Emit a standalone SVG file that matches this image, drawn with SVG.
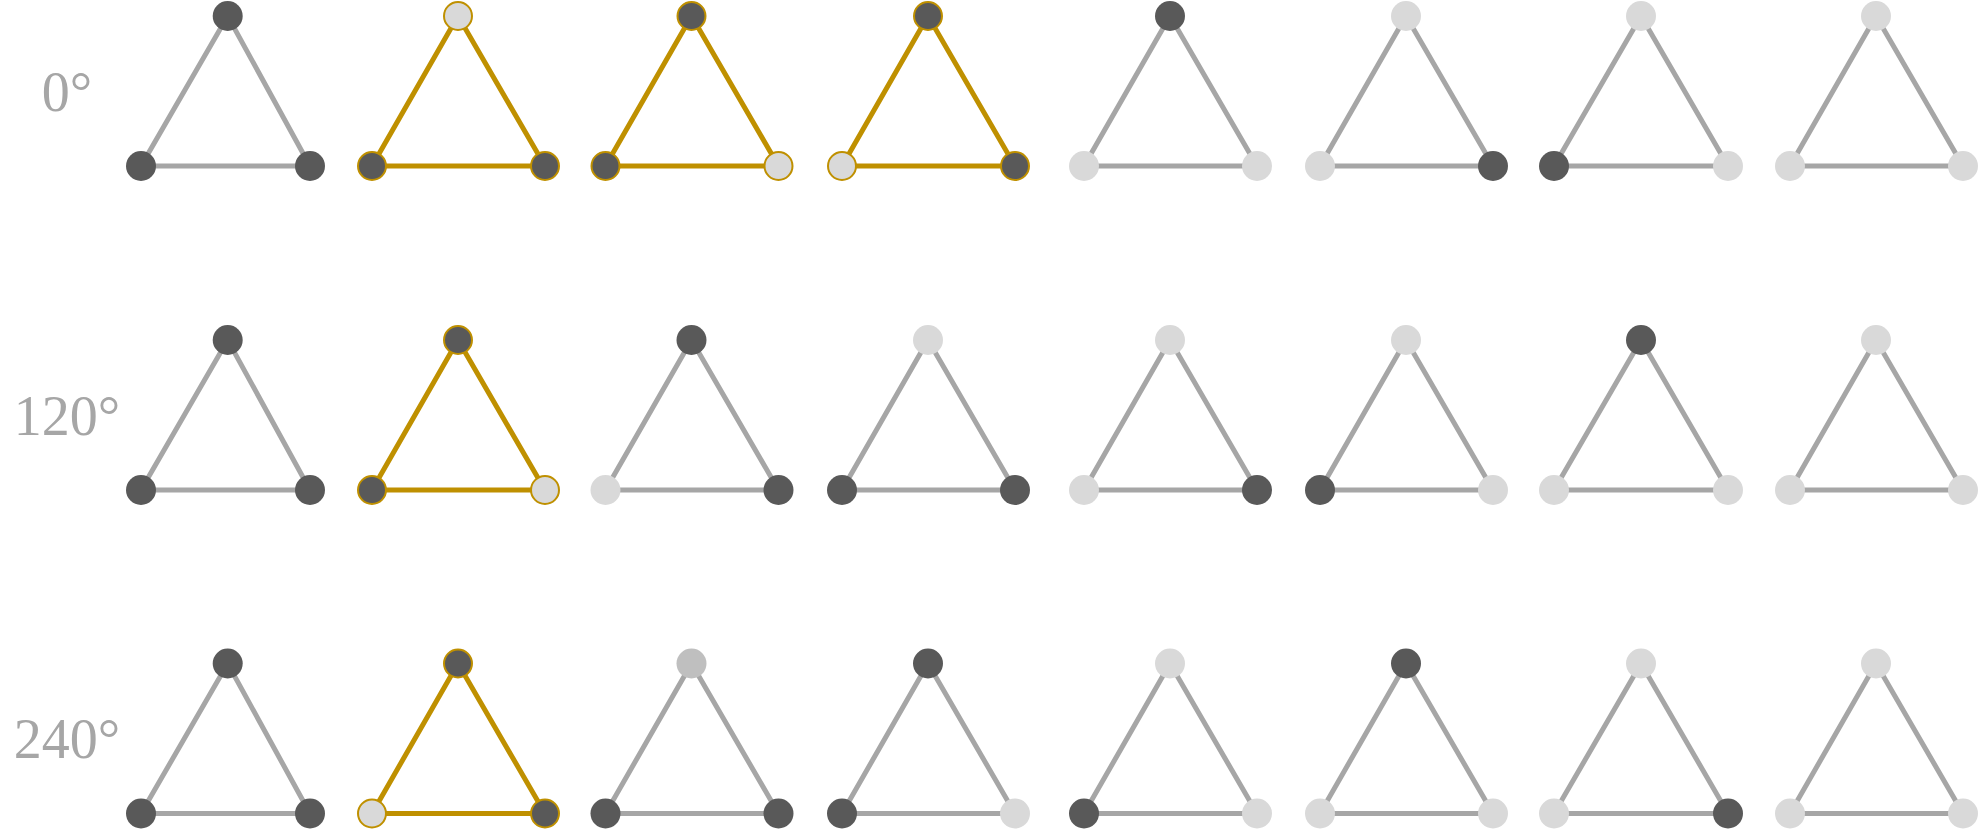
<svg xmlns="http://www.w3.org/2000/svg" width="1978" height="830" viewBox="0 0 1978 830">
<style>
.e{fill:none;stroke:#a6a6a6;stroke-width:5}
.eg{fill:none;stroke:#bf9000;stroke-width:5}
.d{fill:#595959}
.l{fill:#d9d9d9}
.m{fill:#bfbfbf}
.g{stroke:#bf9000;stroke-width:2}
.lbl{font-family:"Liberation Serif","DejaVu Serif",serif;font-size:56px;fill:#a6a6a6;text-anchor:middle}
</style>
<rect width="1978" height="830" fill="#ffffff"/>
<g id="labels">
<text class="lbl" x="67" y="111">0°</text>
<text class="lbl" x="67" y="435">120°</text>
<text class="lbl" x="67" y="758">240°</text>
</g>
<g id="connectors">
<path class="e" d="M227.7 16L141 166L310 166Z"/>
<path class="eg" d="M458 16L372 166L545 166Z"/>
<path class="eg" d="M691.5 16L605.5 166L778.5 166Z"/>
<path class="eg" d="M928 16L842 166L1015 166Z"/>
<path class="e" d="M1170 16L1084 166L1257 166Z"/>
<path class="e" d="M1406 16L1320 166L1493 166Z"/>
<path class="e" d="M1641 16L1554 166L1728 166Z"/>
<path class="e" d="M1876 16L1790 166L1963 166Z"/>
<path class="e" d="M227.7 340L141 490L310 490Z"/>
<path class="eg" d="M458 340L372 490L545 490Z"/>
<path class="e" d="M691.5 340L605.5 490L778.5 490Z"/>
<path class="e" d="M928 340L842 490L1015 490Z"/>
<path class="e" d="M1170 340L1084 490L1257 490Z"/>
<path class="e" d="M1406 340L1320 490L1493 490Z"/>
<path class="e" d="M1641 340L1554 490L1728 490Z"/>
<path class="e" d="M1876 340L1790 490L1963 490Z"/>
<path class="e" d="M227.7 663.5L141 813.5L310 813.5Z"/>
<path class="eg" d="M458 663.5L372 813.5L545 813.5Z"/>
<path class="e" d="M691.5 663.5L605.5 813.5L778.5 813.5Z"/>
<path class="e" d="M928 663.5L842 813.5L1015 813.5Z"/>
<path class="e" d="M1170 663.5L1084 813.5L1257 813.5Z"/>
<path class="e" d="M1406 663.5L1320 813.5L1493 813.5Z"/>
<path class="e" d="M1641 663.5L1554 813.5L1728 813.5Z"/>
<path class="e" d="M1876 663.5L1790 813.5L1963 813.5Z"/>
</g>
<g id="r1c1"><circle id="r1c1-t" class="d" cx="227.7" cy="16" r="15"/><circle id="r1c1-l" class="d" cx="141" cy="166" r="15"/><circle id="r1c1-r" class="d" cx="310" cy="166" r="15"/></g>
<g id="r1c2"><circle id="r1c2-t" class="l g" cx="458" cy="16" r="14"/><circle id="r1c2-l" class="d g" cx="372" cy="166" r="14"/><circle id="r1c2-r" class="d g" cx="545" cy="166" r="14"/></g>
<g id="r1c3"><circle id="r1c3-t" class="d g" cx="691.5" cy="16" r="14"/><circle id="r1c3-l" class="d g" cx="605.5" cy="166" r="14"/><circle id="r1c3-r" class="l g" cx="778.5" cy="166" r="14"/></g>
<g id="r1c4"><circle id="r1c4-t" class="d g" cx="928" cy="16" r="14"/><circle id="r1c4-l" class="l g" cx="842" cy="166" r="14"/><circle id="r1c4-r" class="d g" cx="1015" cy="166" r="14"/></g>
<g id="r1c5"><circle id="r1c5-t" class="d" cx="1170" cy="16" r="15"/><circle id="r1c5-l" class="l" cx="1084" cy="166" r="15"/><circle id="r1c5-r" class="l" cx="1257" cy="166" r="15"/></g>
<g id="r1c6"><circle id="r1c6-t" class="l" cx="1406" cy="16" r="15"/><circle id="r1c6-l" class="l" cx="1320" cy="166" r="15"/><circle id="r1c6-r" class="d" cx="1493" cy="166" r="15"/></g>
<g id="r1c7"><circle id="r1c7-t" class="l" cx="1641" cy="16" r="15"/><circle id="r1c7-l" class="d" cx="1554" cy="166" r="15"/><circle id="r1c7-r" class="l" cx="1728" cy="166" r="15"/></g>
<g id="r1c8"><circle id="r1c8-t" class="l" cx="1876" cy="16" r="15"/><circle id="r1c8-l" class="l" cx="1790" cy="166" r="15"/><circle id="r1c8-r" class="l" cx="1963" cy="166" r="15"/></g>
<g id="r2c1"><circle id="r2c1-t" class="d" cx="227.7" cy="340" r="15"/><circle id="r2c1-l" class="d" cx="141" cy="490" r="15"/><circle id="r2c1-r" class="d" cx="310" cy="490" r="15"/></g>
<g id="r2c2"><circle id="r2c2-t" class="d g" cx="458" cy="340" r="14"/><circle id="r2c2-l" class="d g" cx="372" cy="490" r="14"/><circle id="r2c2-r" class="l g" cx="545" cy="490" r="14"/></g>
<g id="r2c3"><circle id="r2c3-t" class="d" cx="691.5" cy="340" r="15"/><circle id="r2c3-l" class="l" cx="605.5" cy="490" r="15"/><circle id="r2c3-r" class="d" cx="778.5" cy="490" r="15"/></g>
<g id="r2c4"><circle id="r2c4-t" class="l" cx="928" cy="340" r="15"/><circle id="r2c4-l" class="d" cx="842" cy="490" r="15"/><circle id="r2c4-r" class="d" cx="1015" cy="490" r="15"/></g>
<g id="r2c5"><circle id="r2c5-t" class="l" cx="1170" cy="340" r="15"/><circle id="r2c5-l" class="l" cx="1084" cy="490" r="15"/><circle id="r2c5-r" class="d" cx="1257" cy="490" r="15"/></g>
<g id="r2c6"><circle id="r2c6-t" class="l" cx="1406" cy="340" r="15"/><circle id="r2c6-l" class="d" cx="1320" cy="490" r="15"/><circle id="r2c6-r" class="l" cx="1493" cy="490" r="15"/></g>
<g id="r2c7"><circle id="r2c7-t" class="d" cx="1641" cy="340" r="15"/><circle id="r2c7-l" class="l" cx="1554" cy="490" r="15"/><circle id="r2c7-r" class="l" cx="1728" cy="490" r="15"/></g>
<g id="r2c8"><circle id="r2c8-t" class="l" cx="1876" cy="340" r="15"/><circle id="r2c8-l" class="l" cx="1790" cy="490" r="15"/><circle id="r2c8-r" class="l" cx="1963" cy="490" r="15"/></g>
<g id="r3c1"><circle id="r3c1-t" class="d" cx="227.7" cy="663.5" r="15"/><circle id="r3c1-l" class="d" cx="141" cy="813.5" r="15"/><circle id="r3c1-r" class="d" cx="310" cy="813.5" r="15"/></g>
<g id="r3c2"><circle id="r3c2-t" class="d g" cx="458" cy="663.5" r="14"/><circle id="r3c2-l" class="l g" cx="372" cy="813.5" r="14"/><circle id="r3c2-r" class="d g" cx="545" cy="813.5" r="14"/></g>
<g id="r3c3"><circle id="r3c3-t" class="m" cx="691.5" cy="663.5" r="15"/><circle id="r3c3-l" class="d" cx="605.5" cy="813.5" r="15"/><circle id="r3c3-r" class="d" cx="778.5" cy="813.5" r="15"/></g>
<g id="r3c4"><circle id="r3c4-t" class="d" cx="928" cy="663.5" r="15"/><circle id="r3c4-l" class="d" cx="842" cy="813.5" r="15"/><circle id="r3c4-r" class="l" cx="1015" cy="813.5" r="15"/></g>
<g id="r3c5"><circle id="r3c5-t" class="l" cx="1170" cy="663.5" r="15"/><circle id="r3c5-l" class="d" cx="1084" cy="813.5" r="15"/><circle id="r3c5-r" class="l" cx="1257" cy="813.5" r="15"/></g>
<g id="r3c6"><circle id="r3c6-t" class="d" cx="1406" cy="663.5" r="15"/><circle id="r3c6-l" class="l" cx="1320" cy="813.5" r="15"/><circle id="r3c6-r" class="l" cx="1493" cy="813.5" r="15"/></g>
<g id="r3c7"><circle id="r3c7-t" class="l" cx="1641" cy="663.5" r="15"/><circle id="r3c7-l" class="l" cx="1554" cy="813.5" r="15"/><circle id="r3c7-r" class="d" cx="1728" cy="813.5" r="15"/></g>
<g id="r3c8"><circle id="r3c8-t" class="l" cx="1876" cy="663.5" r="15"/><circle id="r3c8-l" class="l" cx="1790" cy="813.5" r="15"/><circle id="r3c8-r" class="l" cx="1963" cy="813.5" r="15"/></g>
</svg>
